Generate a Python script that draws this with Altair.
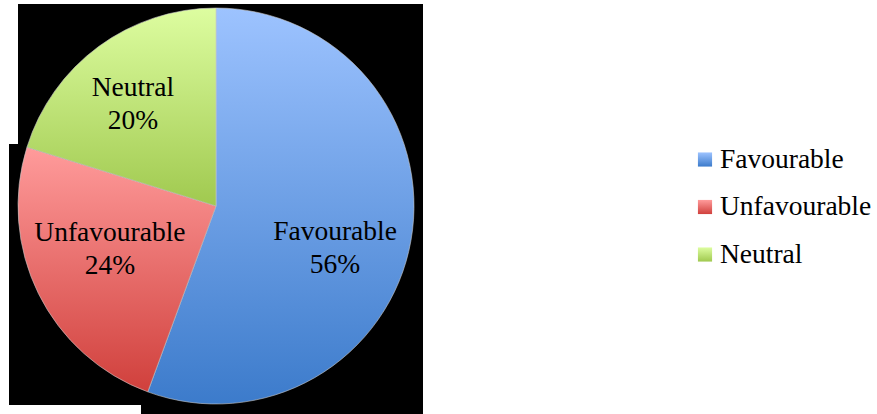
import altair as alt
import pandas as pd

categories = ["Favourable", "Unfavourable", "Neutral"]
values = [55.6, 24.2, 20.2]
top_colors = ["#9DC3FF", "#FF9B9B", "#DDFDA0"]
bottom_colors = ["#3C7BCB", "#D0403C", "#A0C94F"]

df = pd.DataFrame({
    "cat": categories,
    "value": values,
    "order": list(range(len(categories))),
    "label": [f"{c}\n{round(v)}%" for c, v in zip(categories, values)],
})

total = sum(values)
theta_scale = alt.Scale(domain=[0, total], range=[0, 6.283185307179586])
FONT = "Liberation Serif"
FS = 27.5
CX, CY, R = 216, 206, 198
label_offsets = {"Favourable": (-4, 4), "Unfavourable": (6, -28), "Neutral": (-9, -17)}

base = (
    alt.Chart(df)
    .transform_window(end="sum(value)", frame=[None, 0], sort=[alt.SortField("order")])
    .transform_calculate(start="datum.end - datum.value", mid="(datum.end - datum.value/2)")
)

one = alt.Chart(pd.DataFrame({"k": [0]}))
bg = [
    one.mark_rect(color="black").encode(x=alt.value(18), x2=alt.value(423), y=alt.value(4), y2=alt.value(145)),
    one.mark_rect(color="black").encode(x=alt.value(9), x2=alt.value(423), y=alt.value(144), y2=alt.value(405)),
    one.mark_rect(color="black").encode(x=alt.value(141), x2=alt.value(423), y=alt.value(404), y2=alt.value(414)),
]

def grad(i):
    return alt.LinearGradient(
        gradient="linear",
        stops=[alt.GradientStop(color=top_colors[i], offset=0),
               alt.GradientStop(color=bottom_colors[i], offset=1)],
        x1=0, x2=0, y1=0, y2=1,
    )

legend_y = alt.Y("cat:N", scale=alt.Scale(type="point", domain=categories, range=[159.5, 254.5], padding=0), axis=None)

layers = list(bg)
for i, c in enumerate(categories):
    f = base.transform_filter(alt.datum.cat == c)
    layers.append(
        f.mark_arc(radius=R, fill=grad(i), stroke="#c8c8c8", strokeWidth=0.6).encode(
            theta=alt.Theta("start:Q", scale=theta_scale),
            theta2="end:Q",
            x=alt.value(CX), y=alt.value(CY),
        )
    )
for i, c in enumerate(categories):
    f = base.transform_filter(alt.datum.cat == c)
    dx, dy = label_offsets[c]
    layers.append(
        f.mark_text(radius=125, font=FONT, fontSize=FS, color="black", lineBreak="\n",
                    lineHeight=33, align="center", baseline="middle", dx=dx, dy=dy).encode(
            theta=alt.Theta("mid:Q", scale=theta_scale),
            text="label:N",
            x=alt.value(CX), y=alt.value(CY),
        )
    )
for i, c in enumerate(categories):
    f = base.transform_filter(alt.datum.cat == c)
    layers.append(
        f.mark_square(size=200, fill=grad(i), opacity=1).encode(x=alt.value(705), y=legend_y)
    )
layers.append(
    base.mark_text(font=FONT, fontSize=FS, color="black", align="left", baseline="middle").encode(
        x=alt.value(720), y=legend_y, text="cat:N"
    )
)

chart = (
    alt.layer(*layers)
    .properties(width=877, height=414, padding=0, autosize=alt.AutoSizeParams(type="none"), background="white")
    .configure_view(stroke=None)
)

chart.save("out.html", embed_options={"renderer": "svg", "actions": False})
